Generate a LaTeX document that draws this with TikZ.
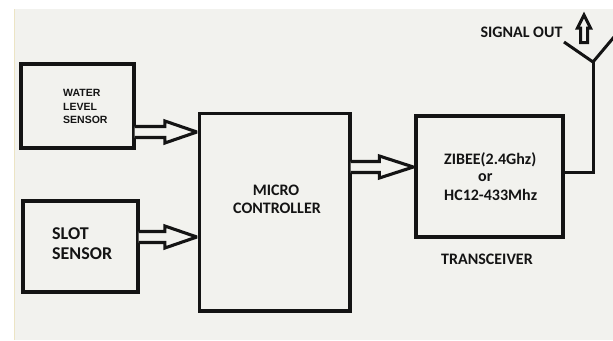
\documentclass[tikz,border=0pt]{standalone}
\usepackage{fontspec}
\setmainfont{Carlito}
\newfontfamily\arialf{Liberation Sans}
\usetikzlibrary{calc}
\definecolor{bgc}{RGB}{242,242,238}
\definecolor{ink}{RGB}{20,20,20}
\begin{document}
\begin{tikzpicture}[x=1pt,y=-1pt,
  box/.style={draw=ink, line width=3.3pt, inner sep=0pt},
  harrow/.style={draw=ink, fill=bgc, line width=3.1pt, line join=miter, miter limit=3},
  wire/.style={draw=ink, line width=3pt},
  lbl/.style={inner sep=0pt, text=ink, font=\fontsize{16}{19}\selectfont\bfseries},
  small/.style={inner sep=0pt, text=ink, font=\arialf\fontsize{10.5}{12}\selectfont\bfseries},
  big/.style={inner sep=0pt, text=ink, font=\fontsize{18}{21}\selectfont\bfseries}]
% canvas
\fill[white] (0,0) rectangle (613,340);
\fill[bgc] (14,9) rectangle (613,340);
\draw[color={rgb,255:red,236;green,228;blue,196}, line width=1.2pt] (14.6,9) -- (14.6,340);
\useasboundingbox (0,0) rectangle (613,340);
% boxes
\node[box, minimum width=113pt, minimum height=84pt] (water) at (77.5,106) {};
\node[box, minimum width=115pt, minimum height=91pt] (slot) at (80.5,246.5) {};
\node[box, minimum width=150.5pt, minimum height=197.5pt] (micro) at (274.75,212.25) {};
\node[box, minimum width=147pt, minimum height=121pt] (trx) at (489.5,176.5) {};
% texts
\node[small, anchor=base west] (t1) at (63,96.7) {WATER};
\node[small, anchor=base west] (t2) at (63,110.7) {LEVEL};
\node[small, anchor=base west] (t3) at (63,123.7) {SENSOR};
\node[big, anchor=base west] (t4) at (52,239.7) {SLOT};
\node[big, anchor=base west] (t5) at (52,259.7) {SENSOR};
\node[lbl, anchor=base] (t6) at (276,195) {MICRO};
\node[lbl, anchor=base] (t7) at (277,213) {CONTROLLER};
\node[lbl, anchor=base west] (t8) at (444,164) {ZIBEE(2.4Ghz)};
\node[lbl, anchor=base west] (t9) at (478,181) {or};
\node[lbl, anchor=base west] (t10) at (444,200) {HC12-433Mhz};
\node[lbl, anchor=base] (t11) at (487,264) {TRANSCEIVER};
\node[lbl, anchor=base] (t12) at (521.5,37) {SIGNAL OUT};
% arrow levels
\coordinate (y1) at (0,132);
\coordinate (y2) at (0,237);
\coordinate (y3) at (0,167);
% hollow arrows
\draw[harrow] ($(water.east |- y1)+(-1,-5.5)$) -- ($(micro.west |- y1)+(-33,-5.5)$) -- ++(0,-5.5)
  -- ($(micro.west |- y1)+(-1,0)$) -- ($(micro.west |- y1)+(-33,11)$) -- ++(0,-5.5)
  -- ($(water.east |- y1)+(-1,5.5)$);
\draw[harrow] ($(slot.east |- y2)+(-1,-5.5)$) -- ($(micro.west |- y2)+(-33,-5.5)$) -- ++(0,-5.5)
  -- ($(micro.west |- y2)+(-1,0)$) -- ($(micro.west |- y2)+(-33,11)$) -- ++(0,-5.5)
  -- ($(slot.east |- y2)+(-1,5.5)$);
\draw[harrow] ($(micro.east |- y3)+(-1,-5.5)$) -- ($(trx.west |- y3)+(-35,-5.5)$) -- ++(0,-5.5)
  -- ($(trx.west |- y3)+(-1,0)$) -- ($(trx.west |- y3)+(-35,11)$) -- ++(0,-5.5)
  -- ($(micro.east |- y3)+(-1,5.5)$);
% antenna
\coordinate (feed) at (593,172);
\coordinate (apex) at (593,62);
\coordinate (armL) at (564,42);
\coordinate (armR) at (614,37);
\draw[wire] (trx.east |- feed) -- (feed) -- (apex);
\draw[wire, line join=miter] (armL) -- (apex) -- (armR);
% signal-out arrow
\coordinate (sig) at (584,15);
\draw[draw=ink, fill=bgc, line width=3pt, line join=miter, miter limit=4]
  (sig) -- ++(6.5,13) -- ++(-3,0) -- ++(0,14.5) -- ++(-7,0) -- ++(0,-14.5) -- ++(-3,0) -- cycle;
\end{tikzpicture}
\end{document}
